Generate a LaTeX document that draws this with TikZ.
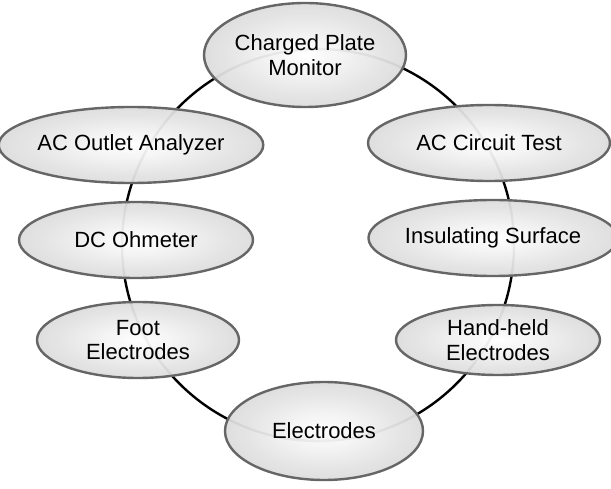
\documentclass[tikz,border=0pt]{standalone}
\usepackage{fontspec}
\setmainfont{Liberation Sans}
\usepackage{tikz}
\usetikzlibrary{shapes.geometric}
\definecolor{ringBlack}{HTML}{000000}
\definecolor{rimGray}{HTML}{666666}
\definecolor{shadeLight}{HTML}{FFFFFF}
\definecolor{shadeDark}{HTML}{DCDCDC}

\begin{document}
\begin{tikzpicture}[x=1pt, y=-1pt,
    font=\fontsize{22}{24.5}\selectfont,
    tool/.style={ellipse, draw=rimGray, line width=2.4pt, inner sep=0pt,
                 shading=radial, inner color=shadeLight, outer color=shadeDark,
                 fill opacity=0.95, text opacity=1, align=center},
    ring/.style={draw=ringBlack, line width=2.4pt}]

  \useasboundingbox (0,0) rectangle (611,489);

  % ring behind the tools
  \coordinate (hub) at (318,245);
  \draw[ring] (hub) circle[radius=196pt];

  \node[tool, minimum width=202pt, minimum height=104pt] (cpm)  at (305,55)  {Charged Plate\\Monitor};
  \node[tool, minimum width=242pt, minimum height=76pt]  (act)  at (489,143) {AC Circuit Test};
  \node[tool, minimum width=234pt, minimum height=76pt]  (ins)  at (493,238) {Insulating Surface};
  \node[tool, minimum width=204pt, minimum height=70pt]  (hand) at (498,340) {Hand-held\\Electrodes};
  \node[tool, minimum width=198pt, minimum height=98pt]  (elec) at (324,431) {Electrodes};
  \node[tool, minimum width=202pt, minimum height=76pt]  (foot) at (138,340) {Foot\\Electrodes};
  \node[tool, minimum width=234pt, minimum height=76pt]  (dco)  at (136,240) {DC Ohmeter};
  \node[tool, minimum width=246pt, minimum height=76pt]  (aco)  at (131,145) {AC Outlet Analyzer};

\end{tikzpicture}
\end{document}
